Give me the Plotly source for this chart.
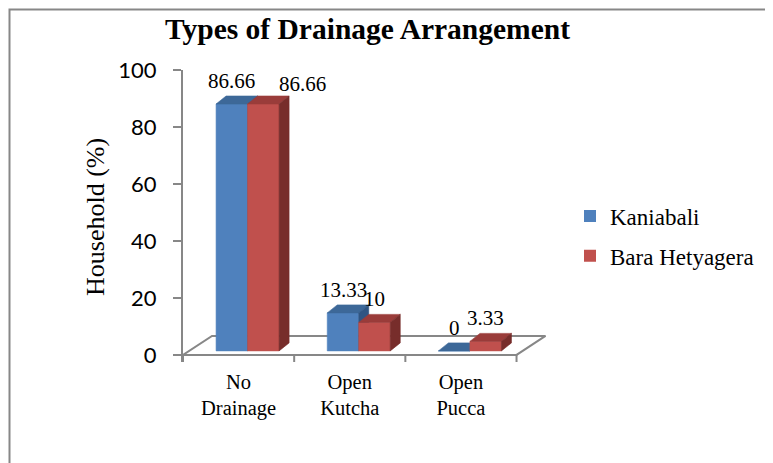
import plotly.graph_objects as go

# ---------------- data ----------------
categories = ["No<br>Drainage", "Open<br>Kutcha", "Open<br>Pucca"]
series_names = ["Kaniabali", "Bara Hetyagera"]
kaniabali = [86.66, 13.33, 0]
bara_hetyagera = [86.66, 10, 3.33]
value_labels_k = ["86.66", "13.33", "0"]
value_labels_b = ["86.66", "10", "3.33"]
y_ticks = [0, 20, 40, 60, 80, 100]

# ---------------- layout geometry (pixels, page coords) ----------------
OFF = 8                      # default body margin of the html page
W, H = 773 - OFF, 463 - OFF
PLOT_LEFT, PLOT_RIGHT, PLOT_TOP, PLOT_BOTTOM = 183, 561, 70, 362
L, R = PLOT_LEFT - OFF, W - (PLOT_RIGHT - OFF)
T, B = PLOT_TOP - OFF, H - (PLOT_BOTTOM - OFF)
XMAX = 3.4
YMIN, YMAX = -2.5, 100
plot_w = PLOT_RIGHT - PLOT_LEFT
plot_h = PLOT_BOTTOM - PLOT_TOP
ux = XMAX / plot_w            # axis units per pixel (x)
uy = (YMAX - YMIN) / plot_h   # axis units per pixel (y)

def px2paper_x(px):
    return (px - PLOT_LEFT) / plot_w

def px2paper_y(py):
    return (PLOT_BOTTOM - py) / plot_h

floor_dx, floor_dy = 29 * ux, 19 * uy
bar_off_x, bar_off_y = 9 * ux, 4 * uy
bar_w = 31.5 * ux
depth_dx, depth_dy = 10 * ux, 8 * uy

front_cols = ["#4F81BD", "#C0504D"]
top_cols = ["#3D6898", "#9A3C3A"]
side_cols = ["#2F5583", "#772D2B"]
axis_col = "#878787"
serif = "Liberation Serif, Times New Roman, serif"

fig = go.Figure()

def poly(xs, ys, col, line_col=None, lw=0.6):
    fig.add_trace(go.Scatter(
        x=xs + [xs[0]], y=ys + [ys[0]], mode="lines", fill="toself",
        fillcolor=col, line=dict(color=line_col or col, width=lw),
        hoverinfo="skip", showlegend=False))

# floor
n = len(categories)
poly([0, n, n + floor_dx, floor_dx], [0, 0, floor_dy, floor_dy], "white", axis_col, 2)

# front x-axis line and tick marks
ax_x, ax_y = [0, n], [0, 0]
for k in range(n + 1):
    ax_x += [None, k, k]
    ax_y += [None, 0, YMIN]
fig.add_trace(go.Scatter(x=ax_x, y=ax_y, mode="lines",
                         line=dict(color=axis_col, width=2),
                         hoverinfo="skip", showlegend=False))

series = [kaniabali, bara_hetyagera]
labels = [value_labels_k, value_labels_b]
annotations = []
for i in range(n):
    c = i + 0.5 + bar_off_x
    for s, vals in enumerate(series):
        v = vals[i]
        x0 = c - bar_w + s * bar_w
        x1 = x0 + bar_w
        y0 = bar_off_y
        y1 = bar_off_y + v
        poly([x0, x1, x1, x0], [y0, y0, y1, y1], front_cols[s])
        poly([x0, x1, x1 + depth_dx, x0 + depth_dx],
             [y1, y1, y1 + depth_dy, y1 + depth_dy], top_cols[s])
        poly([x1, x1 + depth_dx, x1 + depth_dx, x1],
             [y0, y0 + depth_dy, y1 + depth_dy, y1], side_cols[s])
        # data label (Excel moved the overlapping one aside)
        xs, ys = 0, 23
        if i == 0 and s == 1:
            xs, ys = 39, 20
        annotations.append(dict(
            x=(x0 + x1) / 2, y=y1, xref="x", yref="y", text=labels[s][i],
            showarrow=False, xanchor="center", yanchor="middle",
            xshift=xs, yshift=ys, font=dict(family=serif, size=21, color="black")))

# legend entries
for s, name in enumerate(series_names):
    fig.add_trace(go.Scatter(
        x=[None], y=[None], mode="markers", name=name, legendgroup=name,
        marker=dict(symbol="square", size=12, color=front_cols[s])))

annotations.append(dict(
    x=px2paper_x(367), y=px2paper_y(29), xref="paper", yref="paper",
    text="<b>Types of Drainage Arrangement</b>", showarrow=False,
    xanchor="center", yanchor="middle",
    font=dict(family=serif, size=29.5, color="black")))
annotations.append(dict(
    x=px2paper_x(95), y=px2paper_y(217), xref="paper", yref="paper",
    text="Household (%)", textangle=-90, showarrow=False,
    xanchor="center", yanchor="middle",
    font=dict(family=serif, size=26, color="black")))

fig.update_layout(
    width=W, height=H,
    margin=dict(l=L, r=R, t=T, b=B, pad=0),
    paper_bgcolor="white", plot_bgcolor="rgba(0,0,0,0)",
    annotations=annotations,
    showlegend=True,
    legend=dict(x=px2paper_x(570), y=px2paper_y(236), xanchor="left", yanchor="middle",
                font=dict(family=serif, size=23, color="black"),
                tracegroupgap=7, traceorder="grouped", bgcolor="rgba(0,0,0,0)"),
    shapes=[dict(type="rect", xref="paper", yref="paper", layer="below",
                 x0=px2paper_x(9.5), x1=px2paper_x(790),
                 y0=px2paper_y(9.5), y1=px2paper_y(480),
                 line=dict(color=axis_col, width=2), fillcolor="rgba(0,0,0,0)")],
)
fig.update_xaxes(range=[0, XMAX], showgrid=False, zeroline=False, showline=False,
                 tickmode="array", tickvals=[k + 0.5 for k in range(n)], ticktext=categories,
                 ticks="", ticklabelstandoff=5,
                 tickfont=dict(family=serif, size=20.5, color="black"))
fig.update_yaxes(range=[YMIN, YMAX], showgrid=False, zeroline=False,
                 showline=True, linecolor=axis_col, linewidth=2,
                 tickmode="array", tickvals=y_ticks, ticks="outside", ticklen=8,
                 tickwidth=2, tickcolor=axis_col, ticklabelstandoff=12,
                 tickfont=dict(family="Lato, Carlito, sans-serif", size=22, color="black"))

fig.write_html("out.html")
